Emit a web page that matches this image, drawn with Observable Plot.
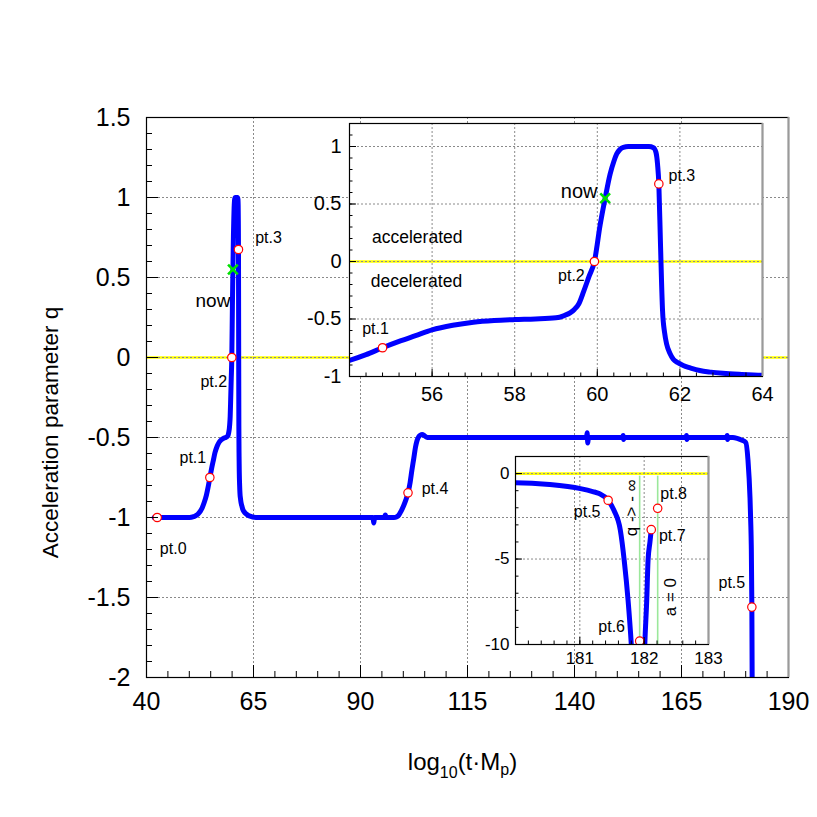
<!DOCTYPE html>
<html><head><meta charset="utf-8">
<script src="https://cdn.jsdelivr.net/npm/d3@7"></script>
<script src="https://cdn.jsdelivr.net/npm/@observablehq/plot@0.6"></script>
<style>
body{margin:0;background:#fff;}
#wrap{position:relative;width:817px;height:817px;overflow:hidden;}
#wrap svg{position:absolute;overflow:visible;}
</style></head><body><div id="wrap"></div>
<script>
// ---------------- data ----------------
const curveT = [41.8,46,50,51,52,53,53.5,54,54.4,54.8,55.2,55.6,56,56.5,57,57.5,58,58.5,59,59.2,59.35,59.45,59.55,59.67,59.8,59.93,60.07,60.19,60.31,60.4,60.47,60.55,60.63,60.75,61.0,61.25,61.36,61.42,61.46,61.49,61.53,61.58,61.63,61.68,61.76,61.84,61.95,62.08,62.25,62.48,62.75,63.04,63.5,64,66,80,92.9,93.1,93.3,95.6,95.8,96.0,97.8,98.5,98.95,99.5,100.1,100.6,101.1,101.6,102.0,102.45,102.85,103.2,103.6,104.0,104.4,105.0,105.6,110,142.8,142.95,143.1,143.25,151.3,151.38,151.46,151.54,166.1,166.18,166.26,166.34,175.6,175.68,175.76,175.84,177,178,179,180,180.53,181.01,181.2,181.3,181.44,181.53,181.63,181.69,181.75,181.8,181.83];
const curveQ = [-1,-1,-1,-0.995,-0.98,-0.94,-0.905,-0.86,-0.81,-0.75,-0.695,-0.645,-0.595,-0.555,-0.528,-0.513,-0.505,-0.5,-0.49,-0.47,-0.445,-0.415,-0.37,-0.26,-0.13,0,0.32,0.55,0.76,0.87,0.935,0.975,0.993,1.0,1.0,1.0,0.99,0.95,0.84,0.675,0.15,-0.43,-0.62,-0.72,-0.8,-0.85,-0.88,-0.905,-0.925,-0.948,-0.962,-0.972,-0.982,-0.99,-1,-1,-1,-1.035,-1,-1,-0.985,-1,-1,-0.995,-0.985,-0.96,-0.925,-0.89,-0.846,-0.78,-0.706,-0.63,-0.56,-0.52,-0.495,-0.485,-0.482,-0.49,-0.5,-0.5,-0.5,-0.47,-0.535,-0.5,-0.5,-0.488,-0.512,-0.5,-0.5,-0.488,-0.512,-0.5,-0.5,-0.488,-0.512,-0.5,-0.5,-0.505,-0.515,-0.53,-0.64,-0.88,-1.05,-1.17,-1.56,-2.15,-3.32,-5.08,-7.42,-10,-12];
// second branch after the singularity
const branchT = [181.995,182.01,182.04,182.06,182.09,182.11];
const branchQ = [-12,-10,-7.4,-5.1,-4.0,-3.28];

const pointNames = ["pt.0","pt.1","pt.2","pt.3","pt.4","pt.5","pt.6","pt.7","pt.8"];
const pointT = [42.5,54.8,59.93,61.49,101.1,181.44,181.93,182.11,182.21];
const pointQ = [-1,-0.75,0,0.675,-0.846,-1.56,-9.8,-3.28,-2.03];
const nowT = [60.19];
const nowQ = [0.55];
const aZeroLines = [181.93, 182.21];   // green vertical markers (q -> -inf, a = 0)

const mainXTicks = [40,65,90,115,140,165,190];
const mainXTickLabels = ["40","65","90","115","140","165","190"];
const mainYTicks = [-2,-1.5,-1,-0.5,0,0.5,1,1.5];
const mainYTickLabels = ["-2","-1.5","-1","-0.5","0","0.5","1","1.5"];
const in1XTicks = [56,58,60,62,64];
const in1XTickLabels = ["56","58","60","62","64"];
const in1YTicks = [-1,-0.5,0,0.5,1];
const in1YTickLabels = ["-1","-0.5","0","0.5","1"];
const in2XTicks = [181,182,183];
const in2XTickLabels = ["181","182","183"];
const in2YTicks = [-10,-5,0];
const in2YTickLabels = ["-10","-5","0"];

const xTitle = "log10(t·Mp)";
const yTitle = "Acceleration parameter q";
const regionLabels = ["accelerated","decelerated"];
const regionT = [55.64, 55.62];
const regionQ = [0.21, -0.17];
const in2Texts = ["q -> - ∞", "a = 0"];
const in2TextT = [181.81, 182.41];
const in2TextQ = [-2.0, -7.23];

// ---------------- build ----------------
const FONT = "'Liberation Sans', Arial, Helvetica, sans-serif";
const curve = curveT.map((t,i)=>({t, q: curveQ[i]}));
const branch = branchT.map((t,i)=>({t, q: branchQ[i]}));
const points = pointNames.map((name,i)=>({name, t: pointT[i], q: pointQ[i]}));
const nowPt = nowT.map((t,i)=>({name:"now", t, q: nowQ[i]}));
const pick = names => points.filter(p => names.includes(p.name));

function labelMarks(rows, offsets, fontSize) {
  return rows.map(r => Plot.text([r], {x:"t", y:"q", text:"name", dx: offsets[r.name][0], dy: offsets[r.name][1], fontSize, fill:"black"}));
}

function panel(o) {
  const inside = (v, d) => v > Math.min(...d) + 1e-9 && v < Math.max(...d) - 1e-9;
  const fmt = (ticks, labels) => d => { const i = ticks.indexOf(d); return i < 0 ? "" : labels[i]; };
  const grid = {stroke:"#8a8a8a", strokeWidth:1, strokeDasharray:"2,2"};
  return Plot.plot({
    width:o.w, height:o.h, marginLeft:o.ml, marginRight:o.mr, marginTop:o.mt, marginBottom:o.mb,
    x:{domain:o.xd}, y:{domain:o.yd},
    style:{fontFamily:FONT, background:"transparent", overflow:"visible", color:"black"},
    marks:[
      o.fill ? Plot.frame({fill:"white", stroke:null}) : null,
      Plot.ruleY([0], {stroke:"#ffff00", strokeWidth:2.6}),
      Plot.ruleX(o.xt.filter(v=>inside(v,o.xd)), grid),
      Plot.ruleY(o.yt.filter(v=>inside(v,o.yd)), grid),
      ...o.marks,
      Plot.axisX(o.xt, {tickSize:-o.tick, tickPadding:o.padX, tickFormat:fmt(o.xt,o.xl), fontSize:o.fs, label:null, stroke:"black"}),
      Plot.axisX(o.xminor, {tickSize:-o.tick/2, tickFormat:()=>"", label:null}),
      Plot.axisY(o.yt, {tickSize:-o.tick, tickPadding:o.padY, tickFormat:fmt(o.yt,o.yl), fontSize:o.fs, label:null}),
      Plot.axisY(o.yminor, {tickSize:-o.tick/2, tickFormat:()=>"", label:null}),
      Plot.frame({stroke:"black", strokeWidth:1.2}),
      Plot.ruleX([o.xd[1]], {stroke:"#9a9a9a", strokeWidth:2}),
      ...(o.after || [])
    ]
  });
}

const lineStyle = {x:"t", y:"q", stroke:"#0000ff", strokeWidth:5, curve:"monotone-x", clip:true, strokeLinejoin:"round"};
const dotStyle = {x:"t", y:"q", r:4.2, stroke:"#ff0000", strokeWidth:1.2, fill:"white", clip:true};
const nowStyle = {x:"t", y:"q", symbol:"times", r:4.5, stroke:"#00e000", strokeWidth:2.6};

// main chart
const mainPts = pick(["pt.0","pt.1","pt.2","pt.3","pt.4","pt.5"]);
const main = panel({
  w:817, h:817, ml:146, mr:29, mt:117, mb:140,
  xd:[40,190], yd:[-2,1.5], xt:mainXTicks, xl:mainXTickLabels, yt:mainYTicks, yl:mainYTickLabels,
  xminor:d3.range(40,190.01,5), yminor:d3.range(-2,1.501,0.1).map(v=>+v.toFixed(2)),
  tick:12, padX:27, padY:28, fs:25, fill:false,
  marks:[
    Plot.line(curve, lineStyle),
    Plot.line(branch, lineStyle),
    Plot.dot(mainPts, dotStyle),
    Plot.dot(nowPt, nowStyle),
    ...labelMarks(mainPts, {"pt.0":[16,31],"pt.1":[-17,-20],"pt.2":[-18,24],"pt.3":[30,-12],"pt.4":[27,-4],"pt.5":[-20,-24]}, 16),
    ...labelMarks(nowPt, {"now":[-20,31]}, 19)
  ],
  after:[
    Plot.text([yTitle], {frameAnchor:"left", textAnchor:"middle", lineAnchor:"middle", rotate:-90, dx:-96, dy:35, fontSize:22.5, fill:"black"}),
    Plot.text([xTitle], {frameAnchor:"bottom", textAnchor:"middle", lineAnchor:"middle", dx:-5, dy:85, fontSize:24, fill:"black"})
  ]
});
main.style.left = "0px"; main.style.top = "0px";

// inset 1 (zoom on 54..64)
const in1Pts = pick(["pt.1","pt.2","pt.3"]);
const regions = regionLabels.map((name,i)=>({name, t:regionT[i], q:regionQ[i]}));
const inset1 = panel({
  w:490, h:320, ml:59, mr:18, mt:23, mb:44,
  xd:[54,64], yd:[-1,1.2], xt:in1XTicks, xl:in1XTickLabels, yt:in1YTicks, yl:in1YTickLabels,
  xminor:d3.range(54,64.01,0.4).map(v=>+v.toFixed(2)), yminor:d3.range(-1,1.201,0.1).map(v=>+v.toFixed(2)),
  tick:7, padX:17, padY:15, fs:20, fill:true,
  marks:[
    Plot.line(curve, lineStyle),
    Plot.dot(in1Pts, dotStyle),
    Plot.dot(nowPt, nowStyle),
    Plot.text(regions, {x:"t", y:"q", text:"name", fontSize:17.5, fill:"black"}),
    ...labelMarks(in1Pts, {"pt.1":[-7,-19],"pt.2":[-23,14],"pt.3":[23,-8]}, 16),
    ...labelMarks(nowPt, {"now":[-26,-7]}, 20)
  ]
});
inset1.style.left = "290px"; inset1.style.top = "100px";

// inset 2 (zoom on the singularity)
const in2Pts = pick(["pt.5","pt.6","pt.7","pt.8"]);
const in2Txt = in2Texts.map((name,i)=>({name, t:in2TextT[i], q:in2TextQ[i]}));
const inset2 = panel({
  w:285, h:240, ml:60, mr:32, mt:16, mb:36,
  xd:[180,183], yd:[-10,1], xt:in2XTicks, xl:in2XTickLabels, yt:in2YTicks, yl:in2YTickLabels,
  xminor:d3.range(180,183.01,0.2).map(v=>+v.toFixed(2)), yminor:d3.range(-10,1.01,1),
  tick:7, padX:14, padY:13, fs:17, fill:false,
  marks:[
    Plot.ruleX(aZeroLines, {y1:-0.15, y2:-10, stroke:"#9be89b", strokeWidth:1.6}),
    Plot.line(curve, lineStyle),
    Plot.line(branch, lineStyle),
    Plot.dot(in2Pts, dotStyle),
    Plot.text(in2Txt, {x:"t", y:"q", text:"name", rotate:-90, fontSize:17, fill:"black"}),
    ...labelMarks(in2Pts, {"pt.5":[-21,12],"pt.6":[-28,-14],"pt.7":[21,6],"pt.8":[16,-14]}, 16)
  ]
});
inset2.style.left = "455px"; inset2.style.top = "440px";

const wrap = document.getElementById("wrap");
wrap.append(main, inset1, inset2);

// subscripts in the x title
main.querySelectorAll("text").forEach(t => {
  if (t.textContent === xTitle) {
    while (t.firstChild) t.removeChild(t.firstChild);
    const parts = [["log",0,null],["10",8,16],["(t",-8,null],["·",0,null],["M",0,null],["p",5,16],[")",-5,null]];
    for (const [s, dy, fs] of parts) {
      const ts = document.createElementNS("http://www.w3.org/2000/svg","tspan");
      ts.textContent = s;
      if (dy) ts.setAttribute("dy", dy);
      if (fs) ts.setAttribute("font-size", fs);
      t.appendChild(ts);
    }
  }
});
</script></body></html>
